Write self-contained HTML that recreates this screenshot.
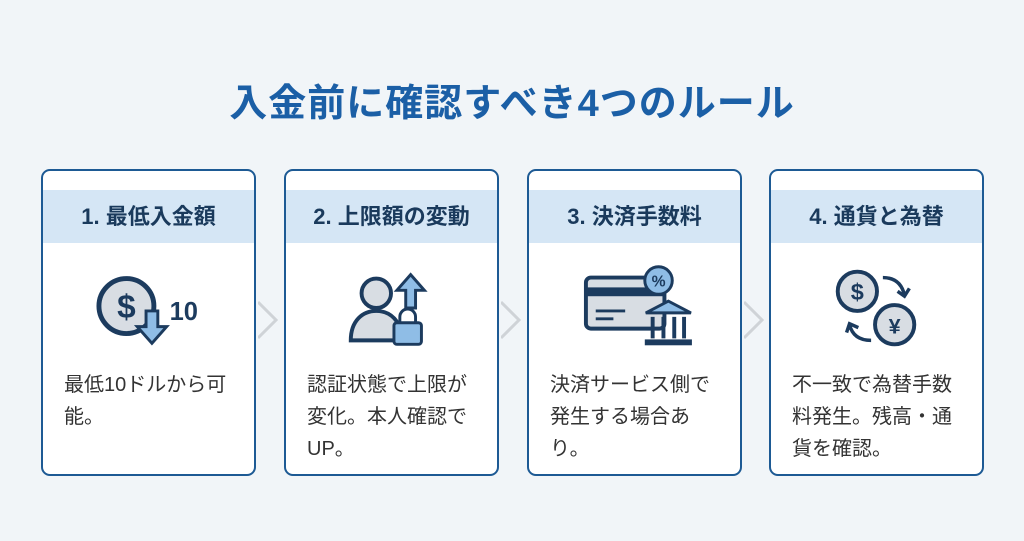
<!DOCTYPE html>
<html><head><meta charset="utf-8"><style>
body{margin:0;width:1024px;height:541px;background:#f1f5f8;font-family:"Liberation Sans","Noto Sans CJK JP",sans-serif;position:relative;overflow:hidden}
.title{position:absolute;top:72px;left:0;width:1024px;text-align:center;font-size:38px;font-weight:bold;color:#1b5fa6;letter-spacing:1px}
.card{position:absolute;top:169px;width:215px;height:307px;background:#fff;border:2.5px solid #1d5a94;border-radius:9px;box-sizing:border-box;overflow:hidden}
.hd{position:absolute;top:19px;left:0;right:0;height:53px;background:#d5e6f5;color:#1a3a5c;font-weight:bold;font-size:22px;text-align:center;line-height:53px}
.ic{position:absolute;top:92px;left:0;width:100%;height:90px}
.tx{position:absolute;top:198px;left:21px;right:6px;font-size:20px;line-height:32px;color:#333;white-space:nowrap}
.chev{position:absolute;top:300px;width:20px;height:40px}
</style></head><body>
<div class="title">入金前に確認すべき4つのルール</div>

<div class="card" style="left:41px"><div class="hd">1. 最低入金額</div>
<svg class="ic" viewBox="0 0 215 90"><circle cx="85" cy="43" r="28" fill="#d8dde3" stroke="#1c3b5e" stroke-width="5"/><text x="85" y="55" font-size="34" font-weight="bold" fill="#1c3b5e" text-anchor="middle" font-family="Liberation Sans">$</text><path d="M105 48h12v16h9l-15 17-15-17h9z" fill="#8fbde6" stroke="#1c3b5e" stroke-width="3"/><text x="129" y="57" font-size="26" font-weight="bold" fill="#1c3b5e" font-family="Liberation Sans">10</text></svg>
<div class="tx">最低10ドルから可<br>能。</div></div>

<div class="card" style="left:284px"><div class="hd">2. 上限額の変動</div>
<svg class="ic" viewBox="0 0 215 90"><circle cx="92" cy="30" r="15" fill="#d8dde3" stroke="#1c3b5e" stroke-width="4"/><path d="M66 78c0-20 12-30 26-30s26 10 26 30z" fill="#d8dde3" stroke="#1c3b5e" stroke-width="4"/><path d="M122 45h10v-18h9l-14-16-14 16h9z" fill="#8fbde6" stroke="#1c3b5e" stroke-width="3"/><rect x="110" y="60" width="28" height="22" rx="3" fill="#8fbde6" stroke="#1c3b5e" stroke-width="3"/><path d="M116 60v-6a8 8 0 0 1 16 0v6" fill="none" stroke="#1c3b5e" stroke-width="3"/></svg>
<div class="tx">認証状態で上限が<br>変化。本人確認で<br>UP。</div></div>

<div class="card" style="left:527px"><div class="hd">3. 決済手数料</div>
<svg class="ic" viewBox="0 0 215 90"><rect x="58" y="14" width="80" height="52" rx="5" fill="#d8dde3" stroke="#1c3b5e" stroke-width="4"/><rect x="58" y="24" width="80" height="9" fill="#1c3b5e"/><path d="M68 48h30M68 56h18" stroke="#1c3b5e" stroke-width="3"/><circle cx="132" cy="17" r="14" fill="#8fbde6" stroke="#1c3b5e" stroke-width="3"/><text x="132" y="23" font-size="16" font-weight="bold" fill="#1c3b5e" text-anchor="middle">%</text><path d="M119 50l23-12 23 12z" fill="#8fbde6" stroke="#1c3b5e" stroke-width="3"/><path d="M126 54v22M137 54v22M148 54v22M158 54v22" stroke="#1c3b5e" stroke-width="4"/><rect x="118" y="77" width="48" height="6" fill="#1c3b5e"/></svg>
<div class="tx">決済サービス側で<br>発生する場合あ<br>り。</div></div>

<div class="card" style="left:769px"><div class="hd">4. 通貨と為替</div>
<svg class="ic" viewBox="0 0 215 90"><circle cx="88" cy="28" r="20" fill="#d8dde3" stroke="#1c3b5e" stroke-width="4"/><text x="88" y="37" font-size="24" font-weight="bold" fill="#1c3b5e" text-anchor="middle">$</text><circle cx="126" cy="62" r="20" fill="#d8dde3" stroke="#1c3b5e" stroke-width="4"/><text x="126" y="71" font-size="22" font-weight="bold" fill="#1c3b5e" text-anchor="middle">¥</text><path d="M114 14q18 0 22 18M129 28l7 5 5-8" fill="none" stroke="#1c3b5e" stroke-width="3.5"/><path d="M102 78q-18 0-22-16M77 70l3-9 9 4" fill="none" stroke="#1c3b5e" stroke-width="3.5"/></svg>
<div class="tx">不一致で為替手数<br>料発生。残高・通<br>貨を確認。</div></div>

<svg class="chev" style="left:258px" viewBox="0 0 20 40"><path d="M0 2l18 18-18 18" fill="none" stroke="#cfd3d7" stroke-width="3"/></svg>
<svg class="chev" style="left:501px" viewBox="0 0 20 40"><path d="M0 2l18 18-18 18" fill="none" stroke="#cfd3d7" stroke-width="3"/></svg>
<svg class="chev" style="left:744px" viewBox="0 0 20 40"><path d="M0 2l18 18-18 18" fill="none" stroke="#cfd3d7" stroke-width="3"/></svg>
</body></html>
